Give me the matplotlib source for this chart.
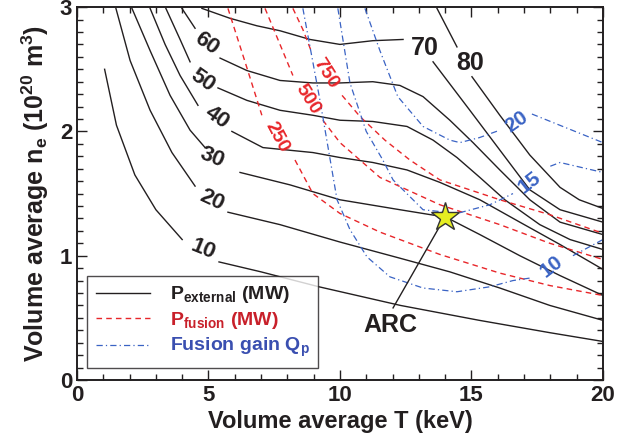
import matplotlib
matplotlib.use("Agg")
import matplotlib.pyplot as plt
from matplotlib import font_manager
from matplotlib.lines import Line2D
from matplotlib.ticker import MultipleLocator

# Pexternal contours (MW): (T, n) before / after the inline label
pext_levels = [10, 20, 30, 40, 50, 60, 70, 80]
pext_a = {
    10: ([1.05, 1.5, 2.2, 3.0, 4.0], [2.50, 2.05, 1.65, 1.37, 1.13]),
    20: ([1.48, 2.02, 2.78, 3.61, 4.49], [2.99, 2.57, 2.17, 1.83, 1.56]),
    30: ([2.09, 2.78, 3.54, 4.3, 4.87], [2.99, 2.65, 2.29, 2.01, 1.87]),
    40: ([2.78, 3.35, 3.92, 4.6], [2.99, 2.70, 2.45, 2.21]),
    50: ([3.38, 3.92, 4.3], [2.99, 2.74, 2.56]),
    60: ([3.99, 4.49], [2.99, 2.83]),
    70: ([4.75, 5.82, 6.84, 7.72, 8.86, 10.0, 11.25, 12.4], [2.99, 2.91, 2.85, 2.81, 2.74, 2.70, 2.73, 2.74]),
    80: ([13.69, 14.45], [2.99, 2.68]),
}
pext_b = {
    10: ([5.4, 7.0, 9.2, 12.3, 15.3, 18.0, 20.0], [0.95, 0.87, 0.75, 0.60, 0.48, 0.38, 0.31]),
    20: ([5.74, 7.72, 10.0, 12.28, 14.18, 16.08, 17.98, 20.0], [1.35, 1.25, 1.11, 0.98, 0.87, 0.74, 0.60, 0.48]),
    30: ([6.2, 8.1, 10.0, 12.28, 14.03, 15.32, 16.84, 18.37, 20.0], [1.67, 1.57, 1.45, 1.37, 1.31, 1.17, 1.00, 0.84, 0.68]),
    40: ([5.89, 7.07, 8.97, 10.0, 11.25, 12.55, 13.8, 15.32, 16.84, 18.37, 20.0],
         [2.00, 1.87, 1.83, 1.79, 1.75, 1.69, 1.59, 1.45, 1.27, 1.09, 0.89]),
    50: ([5.36, 6.46, 7.72, 8.97, 10.0, 11.25, 12.55, 13.54, 14.45, 15.32, 16.27, 17.6, 18.75, 20.0],
         [2.35, 2.25, 2.17, 2.13, 2.09, 2.08, 2.04, 1.93, 1.79, 1.63, 1.45, 1.25, 1.13, 1.05]),
    60: ([5.44, 6.46, 7.72, 8.97, 10.0, 11.25, 12.28, 13.16, 14.18, 15.06, 16.08, 17.22, 18.37, 20.0],
         [2.59, 2.49, 2.41, 2.39, 2.39, 2.40, 2.37, 2.28, 2.09, 1.91, 1.69, 1.45, 1.27, 1.17]),
    70: ([13.54, 14.94, 16.08, 17.22, 18.37, 20.0], [2.56, 2.17, 1.85, 1.53, 1.37, 1.27]),
    80: ([15.02, 16.08, 17.22, 18.37, 19.1, 20.0], [2.44, 2.13, 1.81, 1.55, 1.45, 1.38]),
}
pext_lab = {10: (4.79, 1.05, -22), 20: (5.13, 1.45, -25), 30: (5.13, 1.79, -22),
            40: (5.32, 2.11, -35), 50: (4.79, 2.41, -35), 60: (4.94, 2.71, -35),
            70: (13.23, 2.67, 0), 80: (14.94, 2.55, 0)}

# Pfusion contours (MW)
pfus_levels = [250, 500, 750]
pfus_a = {
    250: ([5.74, 6.39, 7.03], [2.99, 2.56, 2.13]),
    500: ([7.15, 7.72, 8.21], [2.99, 2.70, 2.45]),
    750: ([8.21, 8.59, 8.9], [2.99, 2.82, 2.65]),
}
pfus_b = {
    250: ([8.29, 8.97, 10.0, 11.52, 13.8, 16.08, 17.98, 20.0], [1.77, 1.50, 1.34, 1.19, 1.01, 0.86, 0.76, 0.68]),
    500: ([9.35, 10.0, 11.52, 13.8, 16.08, 17.98, 20.0], [2.09, 1.91, 1.63, 1.41, 1.25, 1.10, 0.97]),
    750: ([10.08, 10.76, 11.71, 12.66, 13.8, 16.08, 17.98, 20.0], [2.29, 2.12, 1.93, 1.77, 1.61, 1.45, 1.33, 1.18]),
}
pfus_lab = {250: (7.6, 1.95, -62), 500: (8.78, 2.26, -58), 750: (9.47, 2.47, -58)}

# Fusion gain Qp contours
qp_levels = [10, 15, 20]
qp_a = {
    10: ([8.59, 9.24, 9.89, 10.38, 11.03, 11.9, 13.16, 14.45, 15.7, 16.58, 17.22],
         [2.99, 2.25, 1.45, 1.21, 0.99, 0.83, 0.74, 0.71, 0.75, 0.80, 0.82]),
    15: ([9.92, 10.38, 11.0, 11.63, 12.02, 13.16, 14.45, 15.7, 16.58],
         [2.99, 2.39, 2.0, 1.77, 1.61, 1.37, 1.34, 1.41, 1.50]),
    20: ([10.95, 11.52, 12.2, 13.16, 14.18, 14.56, 15.3, 16.08],
         [2.99, 2.65, 2.28, 2.04, 1.93, 1.91, 1.95, 2.01]),
}
qp_b = {
    10: ([18.86, 20.0], [1.0, 1.13]),
    15: ([18.0, 18.37, 20.0], [1.72, 1.75, 1.67]),
    20: ([17.3, 20.0], [2.14, 1.91]),
}
qp_lab = {10: (18.06, 0.91, 38), 15: (17.22, 1.59, 38), 20: (16.73, 2.08, 35)}

# ARC operating point and its pointer line
arc_T, arc_n = 14.0, 1.31
arc_line_T = [12.02, 13.75]
arc_line_n = [0.58, 1.22]
arc_text_T, arc_text_n = 11.9, 0.44

names = {f.name for f in font_manager.fontManager.ttflist}
fam = 'Liberation Sans Narrow' if 'Liberation Sans Narrow' in names else 'Liberation Sans'
plt.rcParams['font.family'] = [fam, 'DejaVu Sans']
plt.rcParams['font.weight'] = 'bold'
plt.rcParams['mathtext.fontset'] = 'custom'
plt.rcParams['mathtext.rm'] = fam + ':bold'
plt.rcParams['mathtext.it'] = fam + ':bold'
plt.rcParams['mathtext.bf'] = fam + ':bold'
plt.rcParams['mathtext.default'] = 'rm'

fig = plt.figure(figsize=(6.19, 4.46), dpi=100)
ax = fig.add_axes([0.1244, 0.148, 0.8496, 0.836])

ink = '#231f20'
red = '#e8262a'
blue = '#3a63c4'
dash = (0, (4, 3))
dashdot = (0, (5, 2.5, 1, 2.5))
for lv in pext_levels:
    ax.plot(*pext_a[lv], color=ink, lw=1.0)
    ax.plot(*pext_b[lv], color=ink, lw=1.0)
    x, y, r = pext_lab[lv]
    ax.text(x, y, str(lv), rotation=r, ha='center', va='center',
            fontsize=18 if lv >= 70 else 16, fontweight='bold', color=ink)
for lv in pfus_levels:
    ax.plot(*pfus_a[lv], color=red, lw=1.0, ls=dash)
    ax.plot(*pfus_b[lv], color=red, lw=1.0, ls=dash)
    x, y, r = pfus_lab[lv]
    ax.text(x, y, str(lv), rotation=r, ha='center', va='center', fontsize=14,
            fontweight='bold', color=red)
for lv in qp_levels:
    ax.plot(*qp_a[lv], color=blue, lw=0.9, ls=dashdot)
    ax.plot(*qp_b[lv], color=blue, lw=0.9, ls=dashdot)
    x, y, r = qp_lab[lv]
    ax.text(x, y, str(lv), rotation=r, ha='center', va='center', fontsize=15,
            fontweight='bold', color=blue)

ax.plot(arc_line_T, arc_line_n, color=ink, lw=1.0)
ax.plot([arc_T], [arc_n], marker='*', ms=21, color='#e6ee22', mec='#333333', mew=1.0, zorder=5)
ax.text(arc_text_T, arc_text_n, 'ARC', fontsize=18, fontweight='bold',
        ha='center', va='center', color=ink)

ax.set_xlim(0, 20)
ax.set_ylim(0, 3)
ax.xaxis.set_major_locator(MultipleLocator(5))
ax.xaxis.set_minor_locator(MultipleLocator(1))
ax.yaxis.set_major_locator(MultipleLocator(1))
ax.yaxis.set_minor_locator(MultipleLocator(0.1))
ax.tick_params(which='both', direction='in', top=True, right=True, labelsize=16,
               width=1.0, colors=ink)
ax.tick_params(which='major', length=7)
ax.tick_params(which='minor', length=4)
for t in ax.get_xticklabels() + ax.get_yticklabels():
    t.set_fontweight('bold')
for s in ax.spines.values():
    s.set_linewidth(1.4)
    s.set_color(ink)
ax.set_xlabel('Volume average T (keV)', fontsize=17, fontweight='bold', color=ink, labelpad=3)
ax.set_ylabel('Volume average n$_{e}$ (10$^{20}$ m$^{3}$)', fontsize=18,
              fontweight='bold', color=ink, labelpad=6)

handles = [Line2D([], [], color=ink, lw=1.0),
           Line2D([], [], color=red, lw=1.0, ls=dash),
           Line2D([], [], color=blue, lw=0.9, ls=dashdot)]
labels = ['P$_{external}$ (MW)', 'P$_{fusion}$ (MW)', 'Fusion gain Q$_{p}$']
leg = ax.legend(handles, labels, loc='lower left', bbox_to_anchor=(0.019, 0.032),
                borderaxespad=0,
                prop={'family': [fam, 'DejaVu Sans'], 'weight': 'bold', 'size': 14},
                frameon=True, fancybox=False, edgecolor=ink, handlelength=2.8,
                borderpad=0.45, labelspacing=0.25, handletextpad=1.0)
leg.get_frame().set_linewidth(1.0)
for t, c in zip(leg.get_texts(), [ink, '#c8202a', '#3a4fb0']):
    t.set_color(c)

fig.savefig('out.png', dpi=100)
